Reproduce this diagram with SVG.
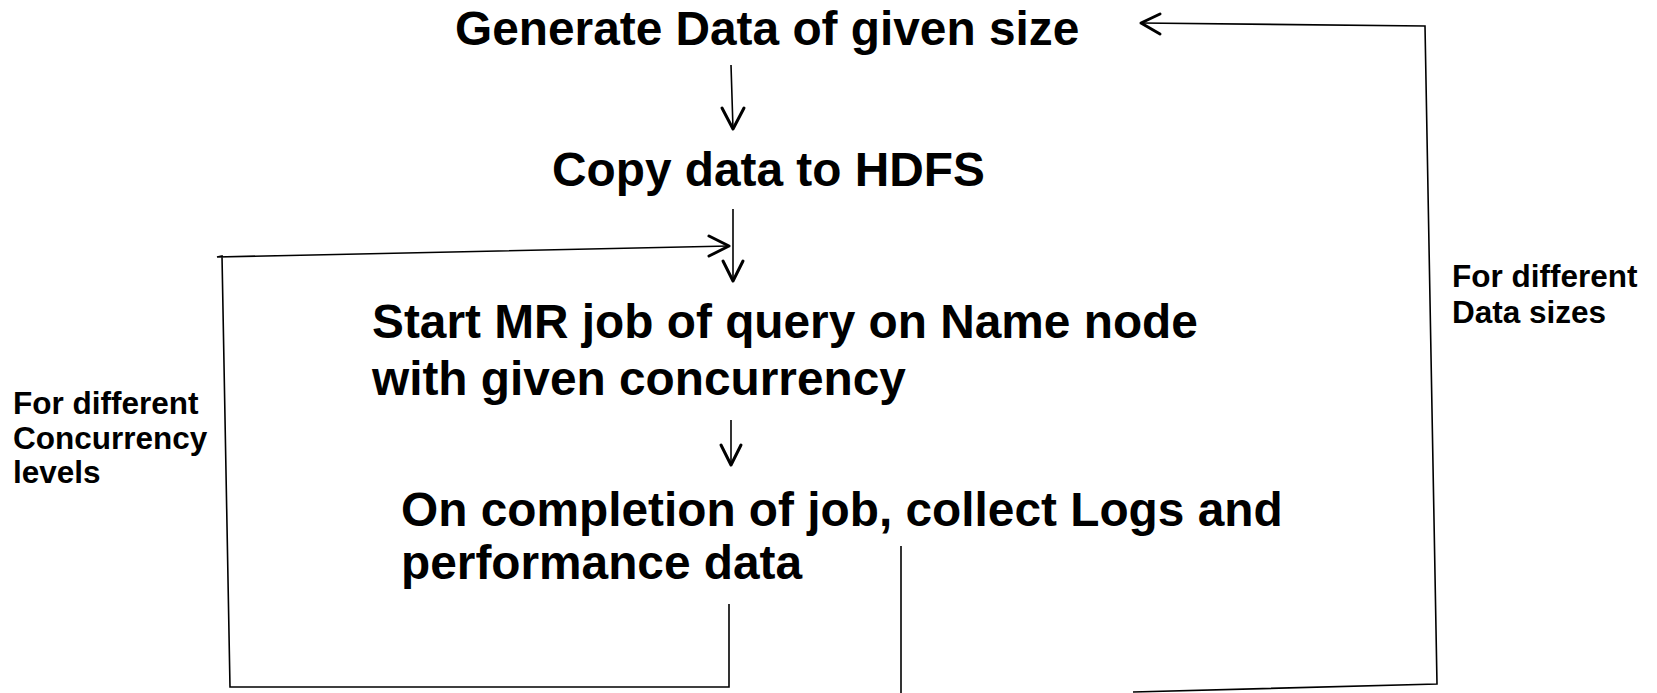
<svg xmlns="http://www.w3.org/2000/svg" width="1657" height="693" viewBox="0 0 1657 693">
<defs>
<style>
.big{font-family:"Liberation Sans",Arial,sans-serif;font-weight:bold;font-size:47.8px;fill:#000}
.small{font-family:"Liberation Sans",Arial,sans-serif;font-weight:bold;font-size:31.5px;fill:#000}
.ln{fill:none;stroke:#000;stroke-width:1.6}
.ah{fill:none;stroke:#000;stroke-width:3;stroke-linecap:round;stroke-linejoin:round}
</style>
</defs>
<rect width="1657" height="693" fill="#fff"/>
<g id="node-generate"><text class="big" x="455" y="45">Generate Data of given size</text></g>
<g id="node-copy"><text class="big" x="552" y="186">Copy data to HDFS</text></g>
<g id="node-start"><text class="big" x="372" y="338">Start MR job of query on Name node</text><text class="big" x="372" y="395">with given concurrency</text></g>
<g id="node-complete"><text class="big" x="401" y="526">On completion of job, collect Logs and</text><text class="big" x="401" y="579">performance data</text></g>
<g id="label-concurrency"><text class="small" x="13" y="414">For different</text><text class="small" x="13" y="449">Concurrency</text><text class="small" x="13" y="483">levels</text></g>
<g id="label-datasizes"><text class="small" x="1452" y="287">For different</text><text class="small" x="1452" y="323">Data sizes</text></g>
<g id="connectors">
<line class="ln" x1="731" y1="65" x2="733" y2="129"/>
<polyline class="ah" points="722,108 733,129 744,108"/>
<line class="ln" x1="733" y1="209" x2="733" y2="281"/>
<polyline class="ah" points="723,261 733,281 743,261"/>
<polyline class="ln" points="729,604 729,687 230,687 222,256 217,257 729,246"/>
<polyline class="ah" points="709,236 729,246 709,256"/>
<line class="ln" x1="731" y1="420" x2="731" y2="465"/>
<polyline class="ah" points="721,445 731,465 741,445"/>
<polyline class="ln" points="901,546 901,693"/>
<polyline class="ln" points="1133,692 1437,684 1425,26 1141,23"/>
<polyline class="ah" points="1160,14 1141,23 1160,34"/>
</g>
</svg>
